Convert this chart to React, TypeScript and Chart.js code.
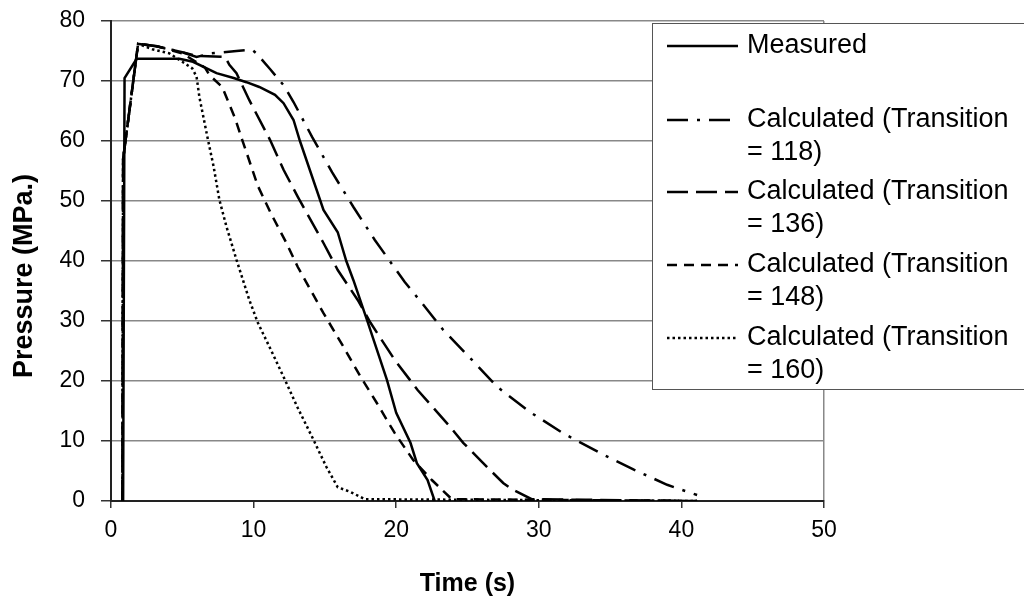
import React, { useEffect, useRef } from "react";
import { Chart, registerables } from "chart.js";

Chart.register(...registerables);

// ---- Data ----
const measuredX = [0.85, 0.95, 1.8, 4.8, 5.75, 7.4, 8.6, 9.5, 10.4, 11.5, 12.1, 12.8, 13.25, 14.9, 15.9, 16.5, 17.0, 17.95, 19.35, 20.0, 21.0, 21.45, 22.2, 22.7];
const measuredY = [0, 70.5, 73.7, 73.7, 73.2, 71.3, 70.5, 69.8, 69.0, 67.7, 66.3, 63.5, 60.0, 48.5, 44.8, 40.0, 36.8, 30.2, 20.2, 14.7, 9.7, 6.3, 3.5, 0];

const calc118X = [0.8, 0.85, 1.9, 3.2, 5.0, 6.0, 7.0, 8.8, 9.9, 10.2, 11.15, 12.1, 12.8, 14.1, 15.5, 17.0, 18.5, 20.6, 21.9, 23.3, 25.2, 27.1, 29.4, 31.7, 34.3, 36.7, 39.0, 41.1];
const calc118Y = [0, 57, 76.2, 75.8, 74.8, 74.0, 74.6, 75.0, 75.2, 74.6, 72.0, 69.3, 66.5, 60.7, 54.8, 49.0, 43.5, 36.5, 32.7, 28.5, 23.8, 19.0, 14.8, 11.3, 8.0, 5.2, 2.7, 1.0];

const calc136X = [0.8, 0.85, 1.9, 3.2, 5.0, 6.0, 8.0, 8.3, 8.8, 9.7, 11.15, 12.1, 13.1, 13.8, 14.9, 15.9, 17.3, 18.2, 19.9, 21.5, 23.8, 24.7, 26.1, 27.5, 28.1, 29.5, 41.1];
const calc136Y = [0, 57, 76.2, 75.8, 74.8, 74.2, 74.0, 72.7, 71.3, 66.8, 60.2, 55.2, 50.7, 47.7, 43.0, 38.5, 33.5, 29.7, 23.5, 18.5, 12.3, 9.7, 6.3, 3.0, 2.0, 0.3, 0];

const calc148X = [0.8, 0.85, 1.9, 3.2, 5.0, 5.75, 6.6, 6.9, 7.8, 8.2, 8.7, 9.2, 10.3, 11.2, 12.3, 13.1, 14.2, 14.9, 16.3, 17.5, 18.6, 19.9, 21.2, 22.5, 23.9, 41.1];
const calc148Y = [0, 57, 76.2, 75.8, 74.6, 73.5, 72.2, 71.0, 69.0, 66.7, 63.8, 60.2, 52.5, 48.0, 43.0, 39.0, 34.3, 31.3, 25.7, 20.7, 16.5, 11.3, 6.8, 3.5, 0.3, 0];

const calc160X = [0.8, 0.85, 1.9, 2.9, 4.1, 5.0, 5.7, 6.0, 6.2, 6.8, 7.2, 7.6, 8.1, 8.8, 9.7, 10.3, 11.15, 12.2, 13.1, 14.2, 15.1, 15.9, 16.8, 17.8, 41.1];
const calc160Y = [0, 57, 76.2, 75.3, 74.6, 73.2, 72.1, 70.7, 67.3, 60.2, 55.7, 50.2, 45.7, 40.2, 33.5, 29.7, 25.5, 20.2, 15.5, 10.2, 5.7, 2.3, 1.5, 0.3, 0];

const seriesLabels = [
  ["Measured"],
  ["Calculated (Transition", "= 118)"],
  ["Calculated (Transition", "= 136)"],
  ["Calculated (Transition", "= 148)"],
  ["Calculated (Transition", "= 160)"],
];

const xTitle = "Time (s)";
const yTitle = "Pressure (MPa.)";

const FONT = '"Liberation Sans", Arial, Helvetica, sans-serif';

const toPoints = (xs: number[], ys: number[]) => xs.map((x, i) => ({ x, y: ys[i] }));

const legendPlugin = {
  id: "excelLegend",
  afterDatasetsDraw(chart: any) {
    const ctx = chart.ctx as CanvasRenderingContext2D;
    ctx.save();
    // box
    ctx.fillStyle = "#ffffff";
    ctx.fillRect(652, 23, 400, 367);
    ctx.strokeStyle = "#555555";
    ctx.lineWidth = 1;
    ctx.setLineDash([]);
    ctx.strokeRect(652.5, 23.5, 400, 366);

    const rowY = [46, 120, 192, 265, 338];
    ctx.font = `27px ${FONT}`;
    ctx.textBaseline = "middle";
    ctx.textAlign = "left";
    chart.data.datasets.forEach((ds: any, i: number) => {
      const y = rowY[i];
      ctx.beginPath();
      ctx.setLineDash(ds.borderDash || []);
      ctx.lineWidth = 2.5;
      ctx.strokeStyle = "#000";
      ctx.moveTo(667, y);
      ctx.lineTo(738, y);
      ctx.stroke();
      ctx.setLineDash([]);
      ctx.fillStyle = "#000";
      const lines = seriesLabels[i];
      lines.forEach((t, j) => ctx.fillText(t, 747, y + j * 33));
    });

    // y axis title
    ctx.save();
    ctx.translate(25, 276);
    ctx.rotate(-Math.PI / 2);
    ctx.font = `bold 27px ${FONT}`;
    ctx.textAlign = "center";
    ctx.textBaseline = "middle";
    ctx.fillStyle = "#000";
    ctx.fillText(yTitle, 0, 0);
    ctx.restore();

    ctx.restore();
  },
};

export default function App() {
  const ref = useRef<HTMLCanvasElement | null>(null);

  useEffect(() => {
    if (!ref.current) return;
    const common = {
      borderColor: "#000000",
      borderWidth: 2.5,
      pointRadius: 0,
      pointHoverRadius: 0,
      tension: 0,
      fill: false,
    };
    const chart = new Chart(ref.current, {
      type: "line",
      data: {
        datasets: [
          { ...common, label: "Measured", data: toPoints(measuredX, measuredY), borderDash: [] },
          { ...common, label: "Calculated (Transition = 118)", data: toPoints(calc118X, calc118Y), borderDash: [21, 9, 3, 9] },
          { ...common, label: "Calculated (Transition = 136)", data: toPoints(calc136X, calc136Y), borderDash: [21, 8] },
          { ...common, label: "Calculated (Transition = 148)", data: toPoints(calc148X, calc148Y), borderDash: [10, 7] },
          { ...common, label: "Calculated (Transition = 160)", data: toPoints(calc160X, calc160Y), borderDash: [2.5, 3] },
        ],
      },
      options: {
        responsive: false,
        animation: false,
        devicePixelRatio: 1,
        layout: { padding: { left: 0, right: 200, top: 21, bottom: 0 } },
        plugins: {
          legend: { display: false },
          tooltip: { enabled: false },
        },
        scales: {
          x: {
            type: "linear",
            min: 0,
            max: 50,
            ticks: {
              stepSize: 10,
              color: "#000",
              font: { family: FONT, size: 23 },
              padding: 9,
              maxRotation: 0,
            },
            grid: {
              color: (c: any) => (c.tick && c.tick.value === 50 ? "#888888" : "rgba(0,0,0,0)"),
              lineWidth: 1.5,
              tickColor: "#333",
              tickLength: 7,
              tickWidth: 1.5,
            },
            border: { color: "#222", width: 2 },
            title: {
              display: true,
              text: xTitle,
              color: "#000",
              font: { family: FONT, size: 25, weight: "bold" },
              padding: { top: 0, bottom: 8 },
            },
            afterFit: (s: any) => {
              s.height = 106;
            },
          },
          y: {
            type: "linear",
            min: 0,
            max: 80,
            ticks: {
              stepSize: 10,
              color: "#000",
              font: { family: FONT, size: 23 },
              padding: 16,
            },
            grid: {
              color: "#888888",
              lineWidth: 1.5,
              tickColor: "#333",
              tickLength: 10,
              tickWidth: 1.5,
            },
            border: { color: "#222", width: 2 },
            afterFit: (s: any) => {
              s.width = 111;
              s.paddingTop = 0;
              s.paddingBottom = 0;
            },
          },
        },
      },
      plugins: [legendPlugin],
    } as any);
    return () => chart.destroy();
  }, []);

  return (
    <div style={{ position: "absolute", left: 0, top: 0, width: 1024, height: 607, background: "#fff" }}>
      <canvas ref={ref} width={1024} height={607} style={{ display: "block" }} />
    </div>
  );
}
